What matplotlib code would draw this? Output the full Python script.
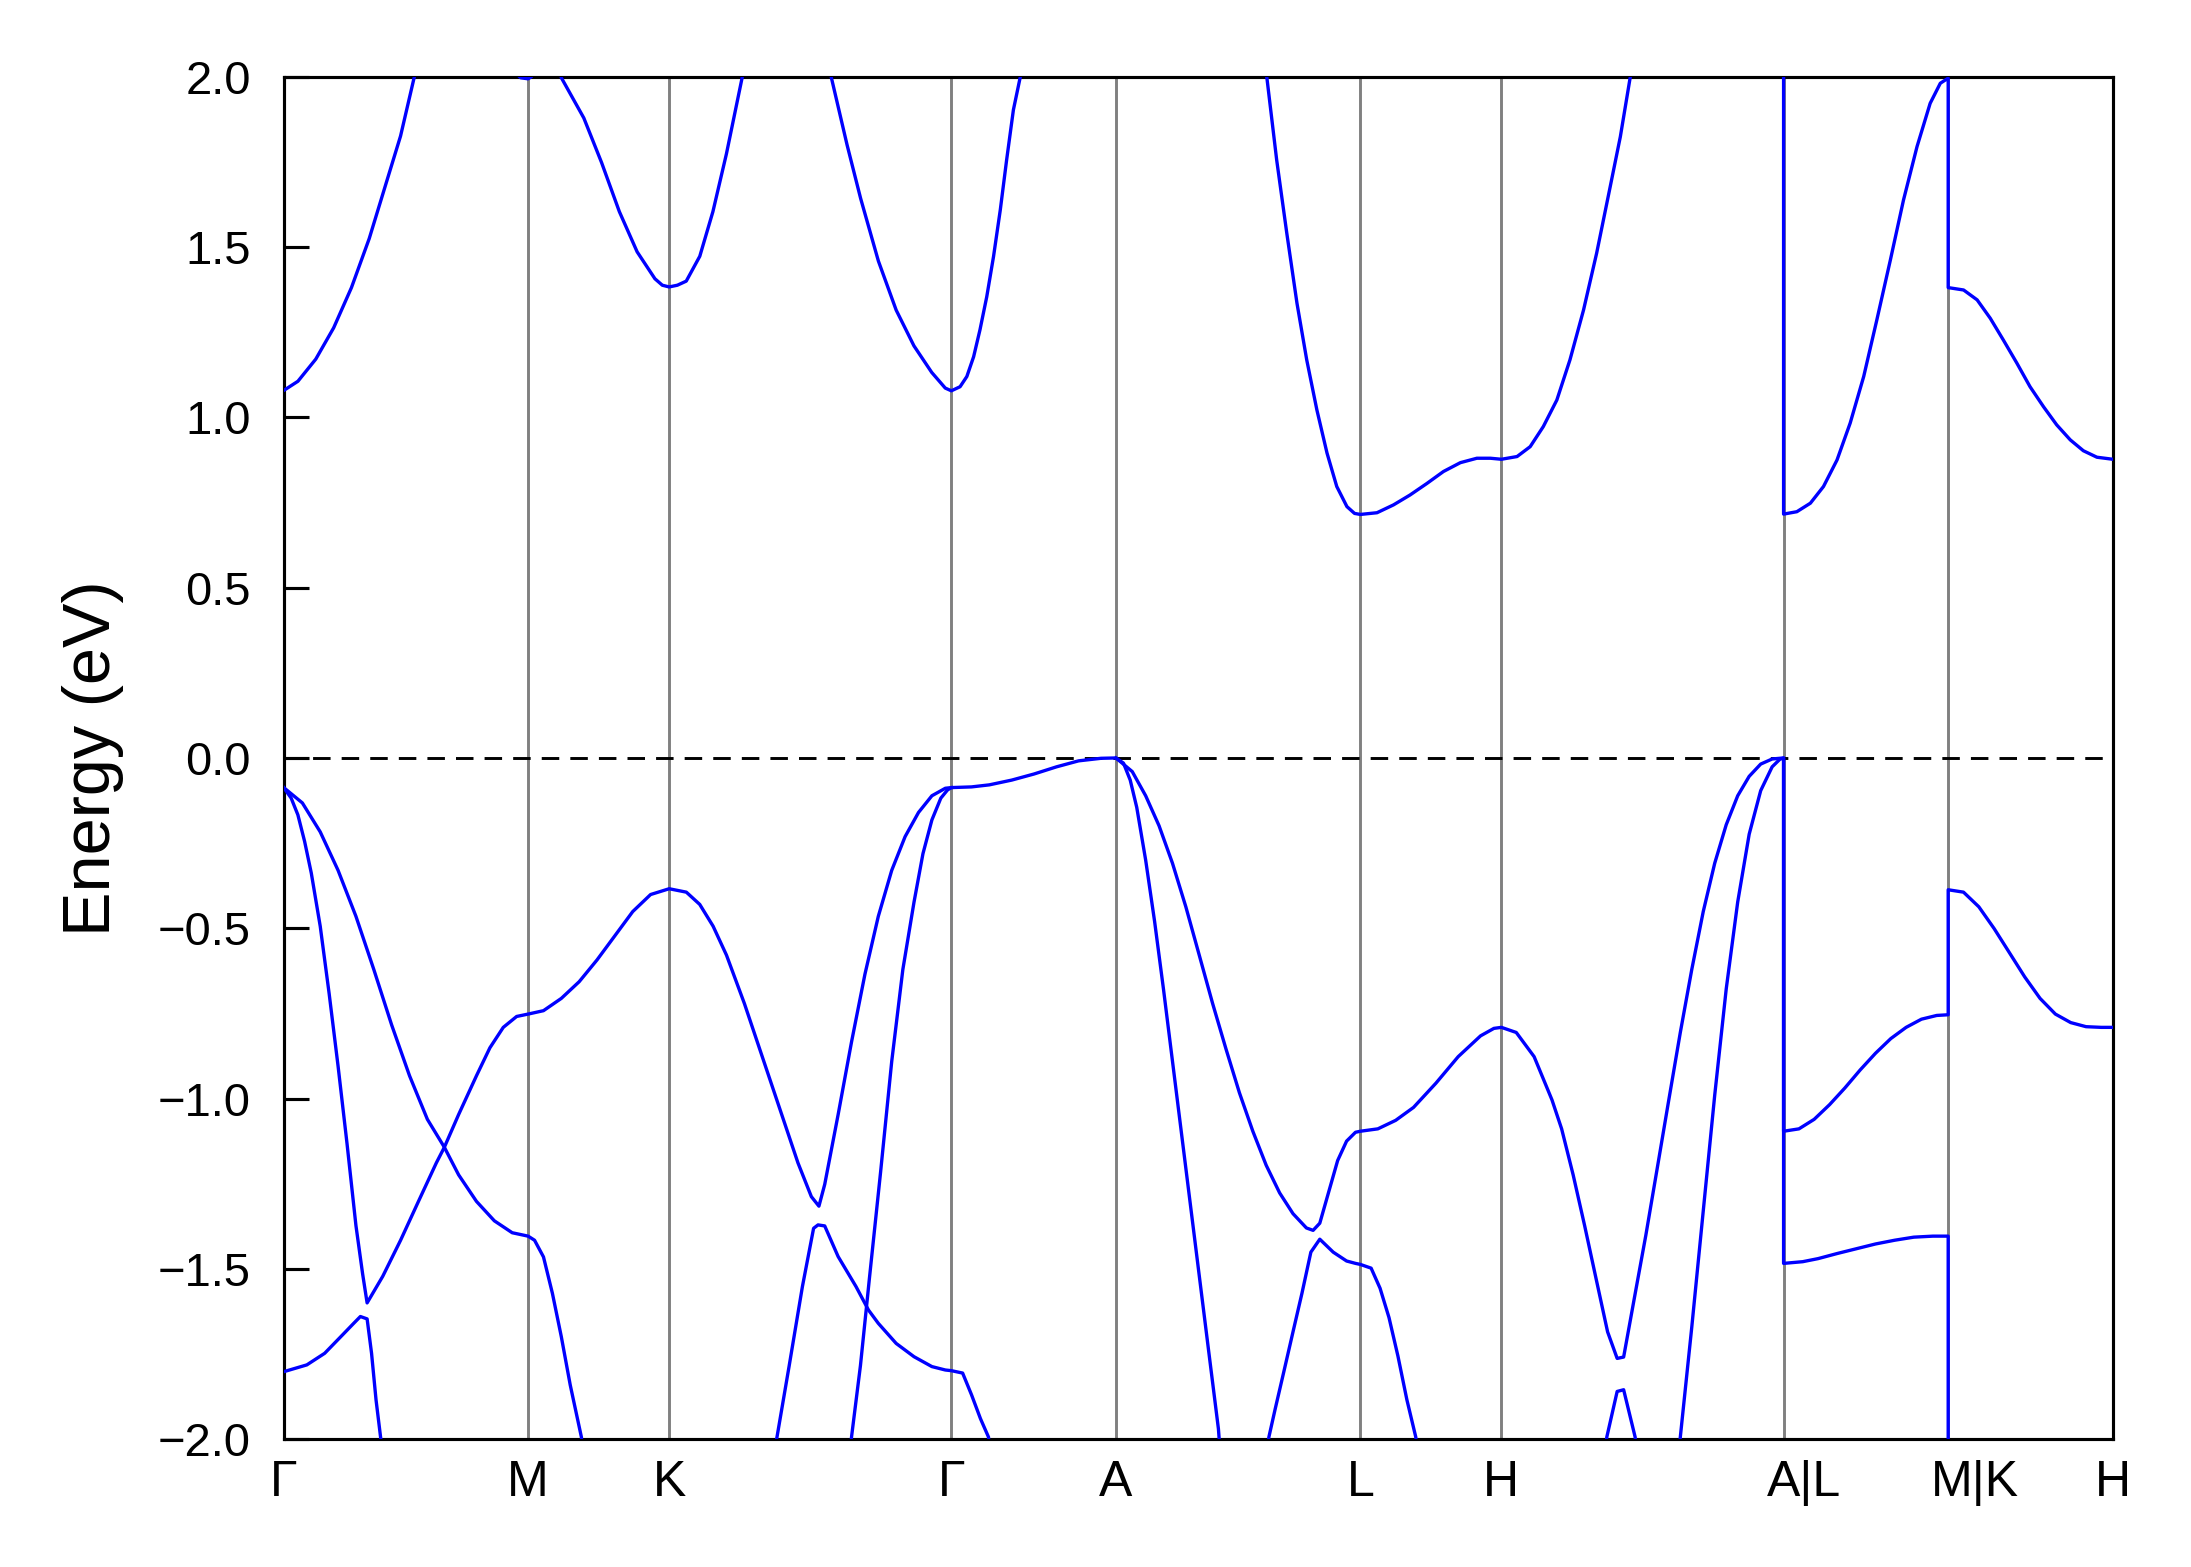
import numpy as np
import matplotlib.pyplot as plt
from matplotlib.ticker import MultipleLocator
from matplotlib.transforms import ScaledTranslation

plt.rcParams['font.family'] = ['Liberation Sans', 'DejaVu Sans']

# ===================== K-PATH =====================
kpt_pos = [0.0, 0.5774, 0.9107, 1.5774, 1.9663, 2.5437, 2.8770, 3.5437, 3.9326, 4.3215]
kpt_labels = ['Γ', 'M', 'K', 'Γ', 'A', 'L', 'H', 'A|L', 'M|K', 'H']

# ===================== BANDS (k, E in eV) =====================
# conduction bands
cb_gamma_m = [(0.0, 1.079), (0.0335, 1.106), (0.0757, 1.171), (0.118, 1.263), (0.160, 1.381),
              (0.202, 1.525), (0.244, 1.696), (0.276, 1.826), (0.308, 1.997), (0.318, 2.04)]
cb_m_edge = [(0.548, 2.01), (0.560, 1.997), (0.5774, 1.994), (0.585, 2.0), (0.592, 2.01)]
cb_k = [(0.650, 2.02), (0.656, 1.997), (0.709, 1.879), (0.751, 1.748), (0.793, 1.604),
        (0.835, 1.486), (0.877, 1.407), (0.8945, 1.388), (0.9107, 1.383), (0.930, 1.388),
        (0.951, 1.400), (0.983, 1.473), (1.014, 1.604), (1.046, 1.774), (1.083, 1.997),
        (1.088, 2.03)]
cb_gamma = [(1.288, 2.03), (1.294, 1.997), (1.331, 1.800), (1.363, 1.643), (1.405, 1.459),
            (1.447, 1.315), (1.489, 1.210), (1.531, 1.132), (1.563, 1.086), (1.5774, 1.078),
            (1.598, 1.090), (1.614, 1.120), (1.630, 1.178), (1.645, 1.257), (1.661, 1.354),
            (1.677, 1.472), (1.693, 1.609), (1.708, 1.756), (1.724, 1.903), (1.740, 1.998),
            (1.745, 2.03)]
cb_l_h = [(2.318, 2.03), (2.323, 1.996), (2.346, 1.756), (2.370, 1.540), (2.394, 1.335),
          (2.417, 1.169), (2.441, 1.022), (2.465, 0.895), (2.488, 0.797), (2.512, 0.738),
          (2.530, 0.718), (2.5437, 0.715), (2.583, 0.720), (2.622, 0.743), (2.661, 0.772),
          (2.701, 0.806), (2.740, 0.841), (2.780, 0.867), (2.819, 0.880), (2.851, 0.880),
          (2.877, 0.877), (2.914, 0.885), (2.945, 0.914), (2.976, 0.973), (3.008, 1.051),
          (3.039, 1.169), (3.071, 1.315), (3.102, 1.482), (3.134, 1.677), (3.158, 1.824),
          (3.181, 1.996), (3.186, 2.03)]
cb_l_m_k_h = [(3.5437, 2.05), (3.5437, 0.716), (3.575, 0.723), (3.607, 0.748), (3.638, 0.797),
              (3.670, 0.875), (3.701, 0.983), (3.733, 1.120), (3.764, 1.286), (3.796, 1.462),
              (3.827, 1.638), (3.859, 1.795), (3.890, 1.922), (3.914, 1.981), (3.9326, 1.996),
              (3.9326, 1.381), (3.969, 1.374), (4.001, 1.345), (4.032, 1.291), (4.063, 1.227),
              (4.095, 1.159), (4.126, 1.090), (4.158, 1.031), (4.189, 0.978), (4.221, 0.934),
              (4.252, 0.902), (4.284, 0.883), (4.3215, 0.877)]

# valence bands
vb_gamma_steep = [(0.0, -0.087), (0.0176, -0.118), (0.0334, -0.167), (0.0493, -0.245),
                  (0.0651, -0.338), (0.0862, -0.494), (0.1073, -0.692), (0.1284, -0.905),
                  (0.1495, -1.132), (0.1706, -1.373), (0.1864, -1.515), (0.1970, -1.600),
                  (0.2339, -1.522), (0.2761, -1.416), (0.3183, -1.302), (0.3605, -1.189),
                  (0.3795, -1.143), (0.4132, -1.047), (0.4554, -0.933), (0.4871, -0.851),
                  (0.5187, -0.791), (0.5503, -0.759), (0.5774, -0.752), (0.6137, -0.742),
                  (0.6558, -0.706), (0.6980, -0.657), (0.7402, -0.593), (0.7824, -0.522),
                  (0.8246, -0.451), (0.8668, -0.401), (0.9107, -0.384), (0.9512, -0.394),
                  (0.9829, -0.430), (1.0145, -0.494), (1.0461, -0.579), (1.0884, -0.721),
                  (1.1306, -0.877), (1.1728, -1.033), (1.2150, -1.189), (1.2466, -1.288),
                  (1.2645, -1.316), (1.2782, -1.252), (1.3099, -1.047), (1.3415, -0.834),
                  (1.3732, -0.635), (1.4048, -0.465), (1.4365, -0.330), (1.4681, -0.231),
                  (1.4998, -0.160), (1.5314, -0.111), (1.5631, -0.089), (1.5774, -0.087)]
vb_top = [(1.339, -2.03), (1.3415, -1.994), (1.3626, -1.784), (1.3837, -1.529), (1.4101, -1.217),
          (1.4365, -0.891), (1.4628, -0.621), (1.4892, -0.423), (1.5103, -0.281), (1.5314, -0.182),
          (1.5525, -0.118), (1.5683, -0.094), (1.5774, -0.087), (1.625, -0.085), (1.667, -0.079),
          (1.720, -0.065), (1.773, -0.047), (1.826, -0.026), (1.878, -0.0085), (1.931, -0.001),
          (1.9663, 0.0), (2.0048, -0.040), (2.0365, -0.111), (2.0681, -0.199), (2.0998, -0.309),
          (2.1314, -0.437), (2.1631, -0.579), (2.1947, -0.721), (2.2264, -0.855), (2.2580, -0.983),
          (2.2897, -1.096), (2.3213, -1.196), (2.3530, -1.277), (2.3846, -1.338), (2.4163, -1.380),
          (2.4321, -1.387), (2.4479, -1.366), (2.4690, -1.274), (2.4901, -1.182), (2.5112, -1.125),
          (2.5323, -1.099), (2.5437, -1.096), (2.5850, -1.089), (2.6272, -1.064), (2.6694, -1.026),
          (2.7222, -0.955), (2.7749, -0.877), (2.8277, -0.816), (2.8593, -0.794), (2.8770, -0.791),
          (2.9121, -0.806), (2.9543, -0.877), (2.9965, -1.004), (3.0193, -1.089), (3.0465, -1.224),
          (3.0736, -1.373), (3.1007, -1.529), (3.1279, -1.685), (3.1505, -1.763), (3.1658, -1.759),
          (3.1911, -1.586), (3.2183, -1.401), (3.2454, -1.203), (3.2725, -1.004), (3.2997, -0.806),
          (3.3268, -0.621), (3.3539, -0.451), (3.3810, -0.309), (3.4082, -0.196), (3.4353, -0.111),
          (3.4624, -0.054), (3.4896, -0.018), (3.5167, -0.003), (3.5437, 0.0), (3.5437, -1.096),
          (3.580, -1.089), (3.616, -1.061), (3.6523, -1.018), (3.6885, -0.969), (3.7247, -0.916),
          (3.7609, -0.867), (3.7970, -0.824), (3.8332, -0.791), (3.8694, -0.767), (3.9056, -0.756),
          (3.9326, -0.754), (3.9326, -0.387), (3.9688, -0.394), (4.005, -0.437), (4.0412, -0.501),
          (4.0774, -0.572), (4.1135, -0.643), (4.1497, -0.706), (4.1859, -0.752), (4.2221, -0.777),
          (4.2583, -0.789), (4.2944, -0.791), (4.3215, -0.791)]
vb_a_steep = [(1.9663, 0.0), (1.984, -0.015), (2.000, -0.065), (2.0154, -0.145), (2.0365, -0.30),
              (2.0576, -0.48), (2.0787, -0.68), (2.0998, -0.89), (2.1209, -1.10), (2.1420, -1.31),
              (2.1631, -1.52), (2.1842, -1.73), (2.2084, -1.97), (2.212, -2.03)]
vb_l_low = [(2.3250, -2.03), (2.3276, -1.994), (2.3424, -1.912), (2.3635, -1.799), (2.3846, -1.685),
            (2.4057, -1.572), (2.4268, -1.451), (2.4479, -1.413), (2.4796, -1.451), (2.5112, -1.477),
            (2.5323, -1.484), (2.5437, -1.487), (2.5692, -1.498), (2.5903, -1.557), (2.6114, -1.643),
            (2.6325, -1.756), (2.6536, -1.884), (2.6747, -1.994), (2.6770, -2.03)]
vb_ha_low = [(3.124, -2.03), (3.126, -1.994), (3.1505, -1.860), (3.1658, -1.855), (3.193, -1.994),
             (3.195, -2.03)]
vb_al_steep = [(3.297, -2.03), (3.2997, -1.994), (3.3268, -1.671), (3.3539, -1.330), (3.3810, -0.990),
               (3.4082, -0.678), (3.4353, -0.423), (3.4624, -0.224), (3.4896, -0.096), (3.5167, -0.026),
               (3.5348, -0.004), (3.5437, 0.0), (3.5437, -1.484), (3.589, -1.479), (3.6252, -1.470),
               (3.6704, -1.455), (3.7156, -1.441), (3.7609, -1.427), (3.8061, -1.416), (3.8513, -1.407),
               (3.8965, -1.404), (3.9326, -1.404), (3.9326, -2.05)]
vb_gamma_broad = [(0.0, -0.087), (0.0440, -0.132), (0.0862, -0.217), (0.1284, -0.330), (0.1706, -0.465),
                  (0.2128, -0.621), (0.2550, -0.784), (0.2972, -0.933), (0.3394, -1.061), (0.3795, -1.143),
                  (0.4132, -1.224), (0.4554, -1.302), (0.4976, -1.359), (0.5398, -1.394), (0.5774, -1.404),
                  (0.5926, -1.416), (0.6137, -1.465), (0.6348, -1.572), (0.6558, -1.699), (0.6769, -1.841),
                  (0.7033, -1.994), (0.7060, -2.03)]
vb_gamma_low = [(0.0, -1.802), (0.0546, -1.782), (0.0967, -1.748), (0.1389, -1.694), (0.1653, -1.660),
                (0.1811, -1.640), (0.1970, -1.647), (0.2075, -1.748), (0.2181, -1.885), (0.2297, -2.003),
                (0.2300, -2.03)]
vb_kg_low = [(1.1620, -2.03), (1.1643, -2.002), (1.1939, -1.787), (1.2255, -1.552), (1.2519, -1.381),
             (1.2624, -1.371), (1.2782, -1.374), (1.3099, -1.464), (1.3521, -1.552), (1.3816, -1.621),
             (1.4048, -1.660), (1.4470, -1.719), (1.4892, -1.758), (1.5314, -1.787), (1.5631, -1.797),
             (1.5774, -1.799), (1.604, -1.806), (1.6251, -1.870), (1.6462, -1.940), (1.6652, -1.994),
             (1.667, -2.03)]

bands = [cb_gamma_m, cb_m_edge, cb_k, cb_gamma, cb_l_h, cb_l_m_k_h,
         vb_gamma_steep, vb_top, vb_a_steep, vb_l_low, vb_ha_low, vb_al_steep,
         vb_gamma_broad, vb_gamma_low, vb_kg_low]

# ===================== FIGURE =====================
fig = plt.figure(figsize=(2191 / 300, 1567 / 300), dpi=300)
ax = fig.add_axes([0.1295, 0.0816, 0.8348, 0.8694])

for b in bands:
    k, e = np.array(b).T
    ax.plot(k, e, color='#0000FF', linewidth=0.8, solid_joinstyle='round', zorder=3)

# high-symmetry lines + Fermi level
for x in kpt_pos[1:-1]:
    ax.axvline(x, color='gray', linewidth=0.7, zorder=1)
ax.axhline(0.0, color='black', linewidth=0.7, linestyle=(0, (6, 3.8)), zorder=2)

ax.set_xlim(kpt_pos[0], kpt_pos[-1])
ax.set_ylim(-2.0, 2.0)

ax.set_xticks(kpt_pos)
ax.set_xticklabels(kpt_labels)
ax.tick_params(axis='x', length=0, pad=5, labelsize=12)
ax.yaxis.set_major_locator(MultipleLocator(0.5))
ax.tick_params(axis='y', direction='in', length=6, width=0.75, pad=7.9, labelsize=11.3)
ax.set_ylabel('Energy (eV)', fontsize=16, labelpad=8)

for s in ax.spines.values():
    s.set_linewidth(0.75)

# the merged labels sit a bit to the right of their lines
for lab in ax.get_xticklabels():
    if '|' in lab.get_text():
        dx = 0.068 if lab.get_text() == 'A|L' else 0.088
        lab.set_transform(lab.get_transform() + ScaledTranslation(dx, 0, fig.dpi_scale_trans))

fig.savefig('out.png', dpi=300)
